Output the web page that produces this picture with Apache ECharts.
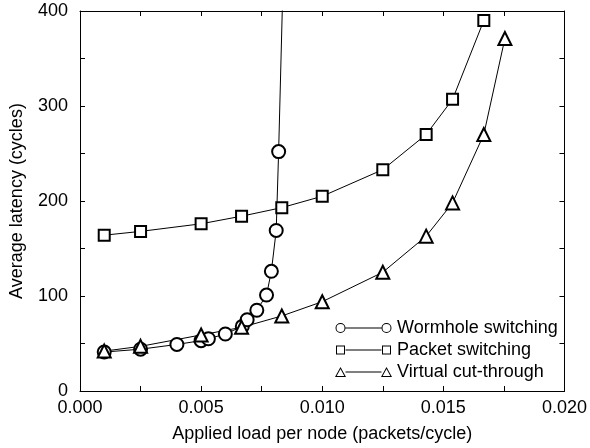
<!DOCTYPE html>
<html>
<head>
<meta charset="utf-8">
<script src="https://cdn.jsdelivr.net/npm/echarts@6/dist/echarts.min.js"></script>
<style>
  html, body { margin: 0; padding: 0; background: #fff; }
  #main { width: 590px; height: 448px; }
</style>
</head>
<body>
<div id="main"></div>
<script>
// wormhole switching (circles)
let wormholeX = [0.001, 0.0025, 0.004, 0.005, 0.0053, 0.006, 0.0067, 0.0069, 0.0073, 0.0077, 0.0079, 0.0081, 0.0082, 0.00845];
let wormholeY = [41, 44, 49, 53, 55, 60, 68, 75, 85, 101, 126, 169, 252, 500];

// packet switching (squares)
let packetX = [0.001, 0.0025, 0.005, 0.00667, 0.00833, 0.01, 0.0125, 0.01429, 0.01538, 0.01667];
let packetY = [164, 168, 176, 184, 193, 205, 233, 270, 307, 390];

// virtual cut-through (triangles)
let vctX = [0.001, 0.0025, 0.005, 0.00667, 0.00833, 0.01, 0.0125, 0.01429, 0.01538, 0.01667, 0.01754];
let vctY = [42, 47, 59, 67, 79, 94, 125, 163, 198, 270, 371];

let xTicks = [0, 0.005, 0.01, 0.015, 0.02];
let yTicks = [0, 100, 200, 300, 400];

function pairs(xs, ys) {
    return xs.map((x, i) => [x, ys[i]]);
}

let font = 'Liberation Sans, Arial, Helvetica, sans-serif';
let black = '#000';

// legend icons: marker - line - marker (inner paths reversed to cut the holes)
let bar = 'M10.5,5 L46.5,5 L46.5,6 L10.5,6 Z ';
function ring(cx) {
    return 'M' + (cx - 5) + ',5.5 A5,5 0 1,1 ' + (cx + 5) + ',5.5 A5,5 0 1,1 ' + (cx - 5) + ',5.5 Z ' +
        'M' + (cx - 4) + ',5.5 A4,4 0 1,0 ' + (cx + 4) + ',5.5 A4,4 0 1,0 ' + (cx - 4) + ',5.5 Z ';
}
function box(cx) {
    let a = cx - 4.5, b = cx + 4.5;
    return 'M' + a + ',1 L' + b + ',1 L' + b + ',10 L' + a + ',10 Z ' +
        'M' + (a + 1) + ',2 L' + (a + 1) + ',9 L' + (b - 1) + ',9 L' + (b - 1) + ',2 Z ';
}
function tri(cx) {
    return 'M' + cx + ',0.5 L' + (cx + 5.5) + ',10.5 L' + (cx - 5.5) + ',10.5 Z ' +
        'M' + cx + ',2.6 L' + (cx - 3.8) + ',9.5 L' + (cx + 3.8) + ',9.5 Z ';
}
let frame = 'M0,0 L0.01,0 L0.01,0.01 Z M57,11 L56.99,11 L56.99,10.99 Z ';
let iconCircle = 'path://' + frame + ring(5.5) + bar + ring(51.5);
let iconRect = 'path://' + frame + box(5.5) + bar + box(51.5);
let iconTri = 'path://' + frame + tri(5.5) + bar + tri(51.5);

function axisCommon() {
    return {
        axisLine: { show: true, onZero: false, lineStyle: { color: black, width: 1 } },
        axisTick: { show: true, inside: true, length: 5, lineStyle: { color: black } },
        minorTick: { show: true, splitNumber: 2, length: 5, lineStyle: { color: black } },
        splitLine: { show: false }
    };
}

let option = {
    backgroundColor: '#fff',
    animation: false,
    textStyle: { fontFamily: font, color: black },
    grid: { left: 80, right: 23, top: 11, bottom: 56 },
    legend: {
        orient: 'vertical',
        left: 330,
        top: 314,
        itemWidth: 57,
        itemHeight: 11,
        itemGap: 4,
        symbolKeepAspect: true,
        itemStyle: { color: black, borderWidth: 0 },
        textStyle: { fontFamily: font, fontSize: 18, color: black },
        data: [
            { name: 'Wormhole switching', icon: iconCircle },
            { name: 'Packet switching', icon: iconRect },
            { name: 'Virtual cut-through', icon: iconTri }
        ]
    },
    xAxis: [
        Object.assign({
            type: 'value',
            min: xTicks[0],
            max: xTicks[xTicks.length - 1],
            interval: 0.005,
            name: 'Applied load per node (packets/cycle)',
            nameLocation: 'middle',
            nameGap: 34,
            nameTextStyle: { fontFamily: font, fontSize: 18, color: black },
            axisLabel: {
                fontFamily: font, fontSize: 18, color: black, margin: 8,
                formatter: v => v.toFixed(3)
            }
        }, axisCommon()),
        Object.assign({
            type: 'value',
            position: 'top',
            min: xTicks[0],
            max: xTicks[xTicks.length - 1],
            interval: 0.005,
            axisLabel: { show: false }
        }, axisCommon())
    ],
    yAxis: [
        Object.assign({
            type: 'value',
            min: yTicks[0],
            max: yTicks[yTicks.length - 1],
            interval: 100,
            name: 'Average latency (cycles)',
            nameLocation: 'middle',
            nameGap: 54,
            nameTextStyle: { fontFamily: font, fontSize: 18, color: black },
            axisLabel: { fontFamily: font, fontSize: 18, color: black, margin: 12 }
        }, axisCommon()),
        Object.assign({
            type: 'value',
            position: 'right',
            min: yTicks[0],
            max: yTicks[yTicks.length - 1],
            interval: 100,
            axisLabel: { show: false }
        }, axisCommon())
    ],
    series: [
        {
            name: 'Wormhole switching',
            type: 'line',
            data: pairs(wormholeX, wormholeY),
            symbol: 'emptyCircle',
            symbolSize: 13,
            clip: true,
            lineStyle: { color: black, width: 1 },
            itemStyle: { color: black, borderColor: black, borderWidth: 1 }
        },
        {
            name: 'Packet switching',
            type: 'line',
            data: pairs(packetX, packetY),
            symbol: 'emptyRect',
            symbolSize: 11,
            clip: true,
            lineStyle: { color: black, width: 1 },
            itemStyle: { color: black, borderColor: black, borderWidth: 1 }
        },
        {
            name: 'Virtual cut-through',
            type: 'line',
            data: pairs(vctX, vctY),
            symbol: 'emptyTriangle',
            symbolSize: 13,
            clip: true,
            lineStyle: { color: black, width: 1 },
            itemStyle: { color: black, borderColor: black, borderWidth: 1 }
        }
    ]
};

var chart = echarts.init(document.getElementById('main'));
chart.setOption(option);
</script>
</body>
</html>
